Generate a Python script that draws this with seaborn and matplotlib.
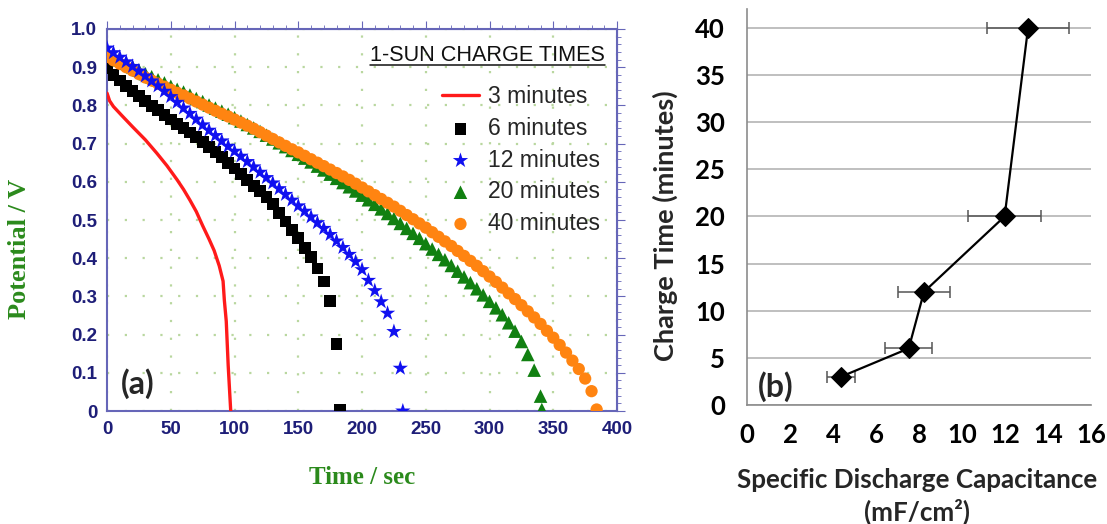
import matplotlib
matplotlib.use("Agg")
import matplotlib.pyplot as plt
import seaborn as sns
from matplotlib.ticker import MultipleLocator, FuncFormatter

# ---- (a) discharge curves, potential (V) vs time (s) ----
t3 = [0, 2, 5, 12, 20, 30, 39, 47, 55, 60, 65, 70, 75, 80, 84, 88, 91, 92, 93.5, 95, 97]
v3 = [0.832, 0.812, 0.797, 0.772, 0.744, 0.71, 0.675, 0.642, 0.605, 0.58, 0.552, 0.522,
      0.485, 0.45, 0.42, 0.38, 0.34, 0.29, 0.235, 0.12, 0.0]

t6 = [0, 5, 10, 15, 20, 25, 30, 35, 40, 45, 50, 55, 60, 65, 70, 75, 80, 85, 90, 95,
      100, 105, 110, 115, 120, 125, 130, 135, 140, 145, 150, 155, 160, 165, 170, 175, 180, 183]
v6 = [0.897, 0.880, 0.865, 0.851, 0.838, 0.825, 0.812, 0.799, 0.787, 0.775,
      0.763, 0.751, 0.740, 0.729, 0.717, 0.705, 0.692, 0.678, 0.664, 0.650,
      0.635, 0.620, 0.605, 0.590, 0.576, 0.561, 0.541, 0.519, 0.496, 0.474,
      0.452, 0.426, 0.404, 0.373, 0.339, 0.288, 0.175, 0.003]

t12 = [0, 5, 10, 15, 20, 25, 30, 35, 40, 45, 50, 55, 60, 65, 70, 75, 80, 85, 90, 95,
       100, 105, 110, 115, 120, 125, 130, 135, 140, 145, 150, 155, 160, 165, 170, 175,
       180, 185, 190, 195, 200, 205, 210, 215, 220, 225, 230, 232]
v12 = [0.950, 0.938, 0.926, 0.914, 0.902, 0.890, 0.877, 0.864, 0.851, 0.837,
       0.823, 0.808, 0.793, 0.779, 0.764, 0.749, 0.735, 0.721, 0.707, 0.693,
       0.680, 0.667, 0.653, 0.639, 0.625, 0.611, 0.597, 0.582, 0.567, 0.552,
       0.537, 0.523, 0.508, 0.493, 0.478, 0.462, 0.445, 0.428, 0.410, 0.391,
       0.370, 0.342, 0.315, 0.286, 0.256, 0.208, 0.112, 0.000]

t20 = [0, 5, 10, 15, 20, 25, 30, 35, 40, 45, 50, 55, 60, 65, 70, 75, 80, 85, 90, 95,
       100, 105, 110, 115, 120, 125, 130, 135, 140, 145, 150, 155, 160, 165, 170, 175,
       180, 185, 190, 195, 200, 205, 210, 215, 220, 225, 230, 235, 240, 245, 250, 255,
       260, 265, 270, 275, 280, 285, 290, 295, 300, 305, 310, 315, 320, 325, 330, 335,
       340, 341]
v20 = [0.937, 0.928, 0.919, 0.910, 0.901, 0.892, 0.883, 0.875, 0.867, 0.859,
       0.850, 0.842, 0.835, 0.827, 0.818, 0.810, 0.801, 0.793, 0.785, 0.777,
       0.768, 0.759, 0.750, 0.741, 0.732, 0.722, 0.712, 0.702, 0.692, 0.682,
       0.672, 0.662, 0.652, 0.641, 0.631, 0.620, 0.609, 0.598, 0.587, 0.576,
       0.565, 0.553, 0.541, 0.529, 0.517, 0.504, 0.491, 0.478, 0.465, 0.452,
       0.438, 0.424, 0.410, 0.396, 0.381, 0.366, 0.351, 0.336, 0.320, 0.304,
       0.287, 0.270, 0.252, 0.231, 0.209, 0.182, 0.148, 0.107, 0.039, 0.004]

t40 = [0, 5, 10, 15, 20, 25, 30, 35, 40, 45, 50, 55, 60, 65, 70, 75, 80, 85, 90, 95,
       100, 105, 110, 115, 120, 125, 130, 135, 140, 145, 150, 155, 160, 165, 170, 175,
       180, 185, 190, 195, 200, 205, 210, 215, 220, 225, 230, 235, 240, 245, 250, 255,
       260, 265, 270, 275, 280, 285, 290, 295, 300, 305, 310, 315, 320, 325, 330, 335,
       340, 345, 350, 355, 360, 365, 370, 375, 380, 384]
v40 = [0.927, 0.918, 0.909, 0.900, 0.891, 0.882, 0.873, 0.865, 0.857, 0.849,
       0.841, 0.833, 0.826, 0.818, 0.810, 0.802, 0.794, 0.786, 0.778, 0.771,
       0.763, 0.755, 0.747, 0.739, 0.730, 0.721, 0.712, 0.703, 0.694, 0.685,
       0.677, 0.668, 0.659, 0.650, 0.641, 0.632, 0.623, 0.614, 0.605, 0.595,
       0.585, 0.575, 0.565, 0.555, 0.545, 0.535, 0.524, 0.513, 0.502, 0.491,
       0.480, 0.468, 0.456, 0.444, 0.432, 0.419, 0.406, 0.393, 0.380, 0.366,
       0.352, 0.338, 0.323, 0.308, 0.293, 0.277, 0.261, 0.245, 0.228, 0.210,
       0.192, 0.173, 0.153, 0.132, 0.110, 0.085, 0.052, 0.004]

# ---- (b) capacitance vs charge time ----
charge_time = [3, 6, 12, 20, 40]
capacitance = [4.37, 7.52, 8.23, 11.98, 13.07]
capacitance_err = [0.65, 1.1, 1.2, 1.7, 1.9]

sns.set_style("white")
plt.rcParams['font.family'] = ['Liberation Sans', 'DejaVu Sans']

navy = '#1e1e78'
spine_col = '#6666b8'
label_green = '#2b8a1c'

fig = plt.figure(figsize=(11.07, 5.24), dpi=100)
ax1 = fig.add_axes([0.0967, 0.2156, 0.4607, 0.7291])
ax2 = fig.add_axes([0.6748, 0.2271, 0.3108, 0.7557])

# Panel (a)
sns.lineplot(x=t3, y=v3, ax=ax1, color='#ff1a1a', linewidth=2.4, sort=False,
             estimator=None, label='3 minutes', zorder=6)
sns.scatterplot(x=t6, y=v6, ax=ax1, marker='s', s=72, color='black', edgecolor='none',
                label='6 minutes', zorder=4)
sns.scatterplot(x=t20, y=v20, ax=ax1, marker='^', s=95, color='#118011', edgecolor='none',
                label='20 minutes', zorder=3)
sns.scatterplot(x=t40, y=v40, ax=ax1, marker='o', s=78, color='#ff8411', edgecolor='none',
                label='40 minutes', zorder=4)
sns.scatterplot(x=t12, y=v12, ax=ax1, marker='*', s=135, color='#1010f0', edgecolor='none',
                label='12 minutes', zorder=5)

handles, labels = ax1.get_legend_handles_labels()
order = ['3 minutes', '6 minutes', '12 minutes', '20 minutes', '40 minutes']
hmap = dict(zip(labels, handles))
ax1.legend([hmap[k] for k in order], order, loc='upper right', bbox_to_anchor=(0.998, 0.895),
           frameon=False, fontsize=16.5, handlelength=1.6, labelspacing=0.38,
           handletextpad=0.4, borderpad=0.2)

ttl = ax1.text(0.976, 0.957, '1-SUN CHARGE TIMES', transform=ax1.transAxes,
               ha='right', va='top', fontsize=15.6, color='#111111')

ax1.set_xlim(0, 400)
ax1.set_ylim(0, 1.0)
ax1.xaxis.set_major_locator(MultipleLocator(50))
ax1.xaxis.set_minor_locator(MultipleLocator(10))
ax1.yaxis.set_major_locator(MultipleLocator(0.1))
ax1.yaxis.set_minor_locator(MultipleLocator(0.02))
ax1.yaxis.set_major_formatter(FuncFormatter(lambda v, p: '0' if abs(v) < 1e-9 else f'{v:.1f}'))
ax1.grid(True, which='major', color='#b9d79f', linestyle=(0, (1, 7)), linewidth=1.6)
ax1.tick_params(which='major', direction='inout', length=8, width=1.2, color=spine_col,
                labelcolor=navy, labelsize=13.5, pad=3)
ax1.tick_params(which='minor', direction='in', length=4, width=1, color=spine_col)
for sp in ax1.spines.values():
    sp.set_color(spine_col)
    sp.set_linewidth(1.5)
for lbl in ax1.get_xticklabels() + ax1.get_yticklabels():
    lbl.set_fontweight('bold')

top = ax1.secondary_xaxis('top')
top.xaxis.set_major_locator(MultipleLocator(50))
top.xaxis.set_minor_locator(MultipleLocator(10))
top.tick_params(which='both', direction='out', labeltop=False, color=spine_col)
top.tick_params(which='major', length=6)
top.tick_params(which='minor', length=3)
top.spines['top'].set_color(spine_col)
right = ax1.secondary_yaxis('right')
right.yaxis.set_major_locator(MultipleLocator(0.1))
right.yaxis.set_minor_locator(MultipleLocator(0.02))
right.tick_params(which='both', direction='out', labelright=False, color=spine_col)
right.tick_params(which='major', length=6)
right.tick_params(which='minor', length=3)
right.spines['right'].set_color(spine_col)

ax1.set_xlabel('Time / sec', family=['Liberation Serif'], fontweight='bold',
               color=label_green, fontsize=18, va='center')
ax1.xaxis.set_label_coords(0.5, -0.175)
ax1.set_ylabel('Potential / V', family=['Liberation Serif'], fontweight='bold',
               color=label_green, fontsize=19, va='center')
ax1.yaxis.set_label_coords(-0.171, 0.425)
ax1.text(11, 0.073, '(a)', fontsize=23, fontweight='bold', family=['Lato'], va='center')

# Panel (b)
ax2.errorbar(capacitance, charge_time, xerr=capacitance_err, fmt='none', ecolor='#555555',
             elinewidth=1.1, capsize=4, capthick=1.1, zorder=2)
sns.lineplot(x=capacitance, y=charge_time, ax=ax2, color='black', linewidth=1.6,
             marker='D', markersize=10, markeredgecolor='black', sort=False,
             estimator=None, zorder=3)
ax2.set_xlim(0, 16)
ax2.set_ylim(0, 42)
ax2.xaxis.set_major_locator(MultipleLocator(2))
ax2.set_yticks([0, 5, 10, 15, 20, 25, 30, 35, 40])
ax2.grid(True, axis='y', color='#b4b4b4', linewidth=1.2)
ax2.set_axisbelow(True)
for s in ['top', 'right']:
    ax2.spines[s].set_visible(False)
for s in ['left', 'bottom']:
    ax2.spines[s].set_color('#8c8c8c')
    ax2.spines[s].set_linewidth(1.2)
ax2.tick_params(axis='both', direction='out', length=7, width=1.1, color='#8c8c8c',
                labelsize=18.5, labelcolor='black', pad=6)
ax2.tick_params(axis='y', pad=9)
for lbl in ax2.get_xticklabels() + ax2.get_yticklabels():
    lbl.set_fontweight('bold')
    lbl.set_family(['Lato'])
ax2.set_xlabel('Specific Discharge Capacitance\n(mF/cm\u00b2)', family=['Lato'],
               fontweight='bold', fontsize=18.7, va='center', linespacing=1.3)
ax2.xaxis.set_label_coords(0.494, -0.232)
ax2.set_ylabel('Charge Time (minutes)', family=['Lato'], fontweight='bold',
               fontsize=19.5, va='center')
ax2.yaxis.set_label_coords(-0.238, 0.452)
ax2.text(0.5, 2.0, '(b)', fontsize=23, fontweight='bold', family=['Lato'], va='center')

# underline the legend title
fig.canvas.draw()
bb = ttl.get_window_extent().transformed(ax1.transAxes.inverted())
ax1.plot([bb.x0, bb.x1], [bb.y0 + 0.004, bb.y0 + 0.004], transform=ax1.transAxes,
         color='#111111', linewidth=1.1, clip_on=False)

fig.savefig('out.png', dpi=100)
